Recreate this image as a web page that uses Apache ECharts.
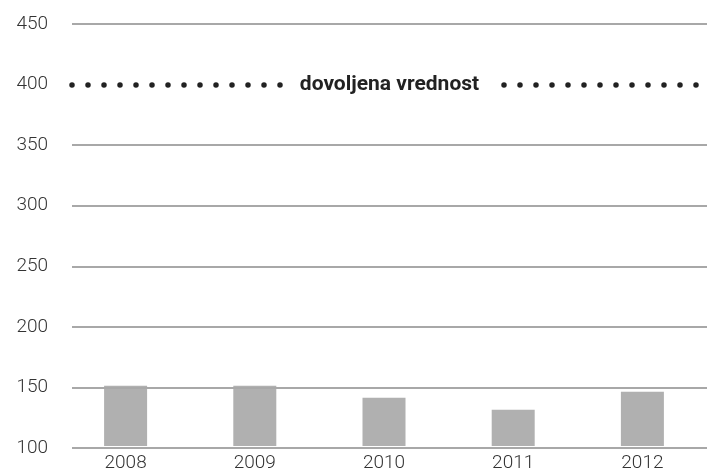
<!DOCTYPE html>
<html>
<head>
<meta charset="utf-8">
<script src="https://cdn.jsdelivr.net/npm/echarts@6/dist/echarts.min.js"></script>
<style>html,body{margin:0;padding:0;background:#fff}#c{width:707px;height:473px}</style>
</head>
<body>
<div id="c"></div>
<script>
var categories = ['2008', '2009', '2010', '2011', '2012'];
var values = [150, 150, 140, 130, 145];
var limitValue = 400;
var limitLabel = 'dovoljena vrednost';
var yMin = 100, yMax = 450, yStep = 50;

var gridColors = [];
for (var v = yMin; v <= yMax; v += yStep) {
  gridColors.push(v === limitValue ? 'rgba(0,0,0,0)' : '#a8a8a8');
}

var chart = echarts.init(document.getElementById('c'), null, {renderer: 'canvas'});
var font = 'Roboto, "DejaVu Sans", sans-serif';
chart.setOption({
  animation: false,
  grid: [
    {left: 72, right: 0, top: 24, bottom: 25},
    {left: 61, width: 660, top: 24, bottom: 25}
  ],
  xAxis: [
    {gridIndex: 0, type: 'value', min: 0, max: 1, show: false},
    {gridIndex: 1, type: 'category', data: categories,
     axisLine: {show: false}, axisTick: {show: false},
     axisLabel: {color: '#333', fontFamily: font, fontSize: 19, fontWeight: 300, margin: 8}}
  ],
  yAxis: [
    {gridIndex: 0, type: 'value', min: yMin, max: yMax, interval: yStep, z: 5,
     axisLine: {show: false}, axisTick: {show: false},
     axisLabel: {color: '#333', fontFamily: font, fontSize: 19, fontWeight: 300, margin: 24},
     splitLine: {lineStyle: {color: gridColors, width: 2}}},
    {gridIndex: 1, type: 'value', min: yMin, max: yMax, interval: yStep, show: false,
     splitLine: {show: false}}
  ],
  series: [
    {type: 'bar', xAxisIndex: 1, yAxisIndex: 1, data: values, barWidth: 43, z: 1,
     itemStyle: {color: '#b0b0b0'}},
    {type: 'line', xAxisIndex: 0, yAxisIndex: 0, data: [], z: 6,
     markLine: {
       silent: true, symbol: ['none', 'none'],
       lineStyle: {color: '#222', width: 5.5, type: [0, 16], cap: 'round', opacity: 1},
       label: {show: true, position: 'middle', distance: 0, verticalAlign: 'middle',
               formatter: limitLabel, color: '#222',
               fontFamily: font, fontSize: 21, fontWeight: 'bold',
               backgroundColor: '#fff', padding: [4, 12]},
       data: [[{coord: [0, limitValue]}, {coord: [1, limitValue]}]]
     }}
  ]
});
</script>
</body>
</html>
